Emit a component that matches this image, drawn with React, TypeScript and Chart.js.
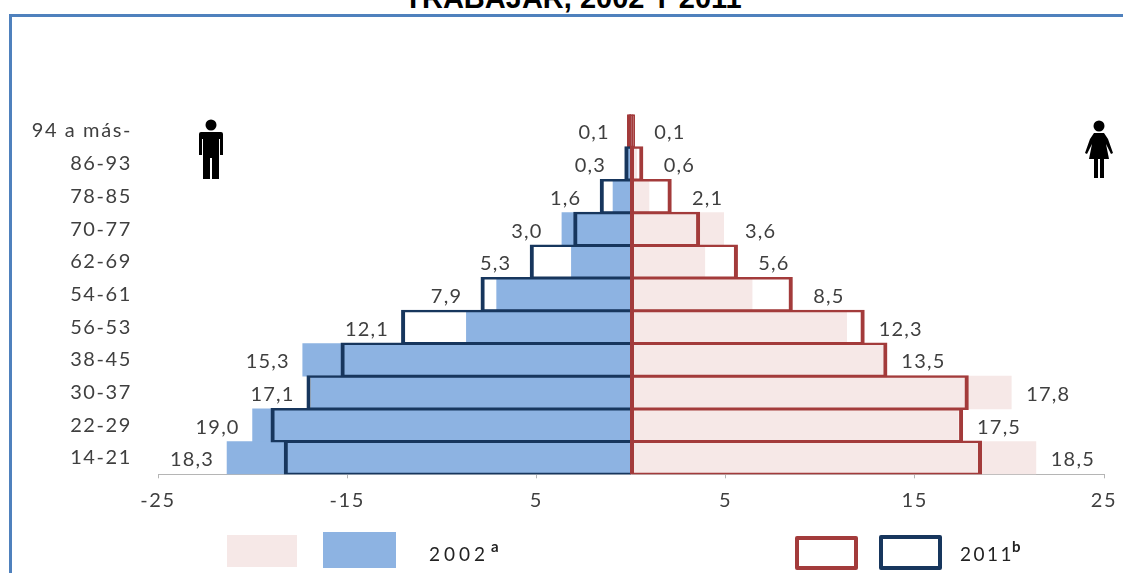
import React, { useEffect, useRef } from "react";
import { Chart, registerables } from "chart.js";

Chart.register(...registerables);

const ageGroups = ["94 a más-", "86-93", "78-85", "70-77", "62-69", "54-61", "56-53", "38-45", "30-37", "22-29", "14-21"];
const men2002 = [-0.1, -0.3, -0.95, -3.65, -3.15, -7.1, -8.7, -17.35, -16.9, -20.0, -21.35];
const women2002 = [0.1, 0.3, 0.95, 4.9, 3.9, 6.4, 11.4, 13.3, 20.1, 17.3, 21.4];
const men2011 = [-0.1, -0.3, -1.6, -3.0, -5.3, -7.9, -12.1, -15.3, -17.1, -19.0, -18.3];
const women2011 = [0.1, 0.6, 2.1, 3.6, 5.6, 8.5, 12.3, 13.5, 17.8, 17.5, 18.5];
const xTickLabels = ["-25", "-15", "5", "5", "15", "25"];

const PINK = "#f6e8e7";
const BLUE = "#8db3e2";
const RED = "#a33b3b";
const NAVY = "#17365d";
const TEXT = "#3f3f3f";
const CLEAR = "rgba(0,0,0,0)";
const FONT = "Lato, 'Open Sans', sans-serif";

const fmt = (v: number) => Math.abs(v).toFixed(1).replace(".", ",");
const isTiny = (c: any) => Math.abs(c.raw) < 0.2;

const valueLabels = {
  id: "valueLabels",
  beforeDraw(chart: any) {
    chart.ctx.letterSpacing = "1.6px";
  },
  afterDatasetsDraw(chart: any) {
    const { ctx, scales } = chart;
    ctx.save();
    ctx.font = `20px ${FONT}`;
    ctx.letterSpacing = "1.2px";
    ctx.fillStyle = TEXT;
    ctx.textAlign = "center";
    ctx.textBaseline = "middle";
    ageGroups.forEach((_, i) => {
      const y = scales.y.getPixelForValue(i) + 2;
      const left = Math.min(men2002[i], men2011[i]);
      const right = Math.max(women2002[i], women2011[i]);
      ctx.fillText(fmt(men2011[i]), scales.x.getPixelForValue(left) - 35, y);
      ctx.fillText(fmt(women2011[i]), scales.x.getPixelForValue(right) + 37, y);
    });
    ctx.restore();
  },
};

function ManIcon() {
  return (
    <svg width="26" height="62" viewBox="0 0 26 62" style={{ position: "absolute", left: 198, top: 119 }}>
      <circle cx="13" cy="6" r="5.5" fill="#000" />
      <path d="M3 13 H23 Q25 13 25 15 V36 H22 V20 H21 V60 H14 V39 H12 V60 H5 V20 H4 V36 H1 V15 Q1 13 3 13 Z" fill="#000" />
    </svg>
  );
}

function WomanIcon() {
  return (
    <svg width="30" height="60" viewBox="0 0 30 60" style={{ position: "absolute", left: 1084, top: 120 }}>
      <circle cx="15" cy="6" r="5.5" fill="#000" />
      <path d="M10 13 H20 L24 19 L29 33 L27 34 L22 24 L25 39 H20 V58 H16 V39 H14 V58 H10 V39 H5 L8 24 L3 34 L1 33 L6 19 Z" fill="#000" />
    </svg>
  );
}

const box = (left: number, top: number, w: number, h: number, style: React.CSSProperties): React.CSSProperties => ({
  position: "absolute", left, top, width: w, height: h, boxSizing: "border-box", ...style,
});

export default function App() {
  const ref = useRef<HTMLCanvasElement>(null);

  useEffect(() => {
    document.body.style.margin = "0";
    document.body.style.overflow = "hidden";
    const bar = { barPercentage: 1, categoryPercentage: 1, grouped: false };
    const stroke = { borderSkipped: false, inflateAmount: 1, minBarLength: 3 };
    const chart = new Chart(ref.current!, {
      type: "bar",
      data: {
        labels: ageGroups,
        datasets: [
          { label: "2002 hombres", data: men2002, backgroundColor: BLUE, order: 3, ...bar },
          { label: "2002 mujeres", data: women2002, backgroundColor: PINK, order: 3, ...bar },
          {
            label: "2011 hombres", data: men2011,
            backgroundColor: (c: any) => (isTiny(c) ? RED : CLEAR),
            borderColor: (c: any) => (isTiny(c) ? RED : NAVY),
            borderWidth: { top: 0.5, bottom: 0.5, left: 2, right: 0 }, order: 2, ...stroke, ...bar,
          },
          {
            label: "2011 mujeres", data: women2011,
            backgroundColor: (c: any) => (isTiny(c) ? RED : CLEAR),
            borderColor: RED,
            borderWidth: { top: 0.5, bottom: 0.5, left: 2, right: 2 }, order: 1, ...stroke, ...bar,
          },
        ],
      } as any,
      options: {
        indexAxis: "y",
        animation: false,
        responsive: false,
        layout: { padding: { top: 114.6, right: 19, left: 0, bottom: 0 } },
        plugins: { legend: { display: false }, title: { display: false }, tooltip: { enabled: false } },
        scales: {
          x: {
            min: -25, max: 25,
            afterFit: (s: any) => { s.height = 98.7; s.paddingLeft = 0; s.paddingRight = 0; },
            grid: { drawOnChartArea: false, drawTicks: true, tickLength: 4, color: "#b5b5b5" },
            border: { display: true, color: "#b5b5b5" },
            ticks: {
              stepSize: 10, color: TEXT, padding: 10, maxRotation: 0, autoSkip: false,
              font: { family: FONT, size: 20 },
              callback: (_: any, i: number) => xTickLabels[i],
            },
          },
          y: {
            afterFit: (s: any) => { s.width = 158; },
            grid: { display: false, drawTicks: false },
            border: { display: false },
            ticks: { color: TEXT, padding: 26, autoSkip: false, font: { family: FONT, size: 20 } },
          },
        },
      } as any,
      plugins: [valueLabels],
    });
    return () => chart.destroy();
  }, []);

  const legendText: React.CSSProperties = { position: "absolute", fontFamily: FONT, fontSize: 19, color: "#222", letterSpacing: 4, lineHeight: "20px", whiteSpace: "nowrap" };
  const sup: React.CSSProperties = { position: "absolute", top: -8, fontSize: 15, fontWeight: 700, letterSpacing: 0, lineHeight: "20px" };

  return (
    <div style={{ position: "relative", width: 1123, height: 573, overflow: "hidden", background: "#fff" }}>
      <div style={{ position: "absolute", left: 0, width: 1146, top: -18, textAlign: "center", fontFamily: "'Liberation Sans', Arial, sans-serif", fontWeight: 700, fontSize: 29, lineHeight: "32px", color: "#000", whiteSpace: "nowrap" }}>
        TRABAJAR, 2002 Y 2011
      </div>
      <div style={{ position: "absolute", left: 9, top: 14, right: -4, bottom: -4, borderTop: "3px solid #4f81bd", borderLeft: "3px solid #4f81bd" }} />
      <canvas ref={ref} width={1123} height={573} style={{ position: "absolute", left: 0, top: 0, filter: "blur(0.5px)" }} />
      <ManIcon />
      <WomanIcon />
      <div style={box(227, 535, 70, 32, { background: PINK })} />
      <div style={box(323, 532, 73, 36, { background: BLUE })} />
      <div style={{ ...legendText, left: 429, top: 544 }}>2002<span style={{ ...sup, left: 62 }}>a</span></div>
      <div style={box(795, 536, 63, 34, { border: `4px solid ${RED}`, borderRadius: 2 })} />
      <div style={box(879, 535, 63, 35, { border: `4px solid ${NAVY}`, borderRadius: 2 })} />
      <div style={{ ...legendText, left: 960, top: 544, letterSpacing: 2.5 }}>2011<span style={{ ...sup, left: 52 }}>b</span></div>
    </div>
  );
}
